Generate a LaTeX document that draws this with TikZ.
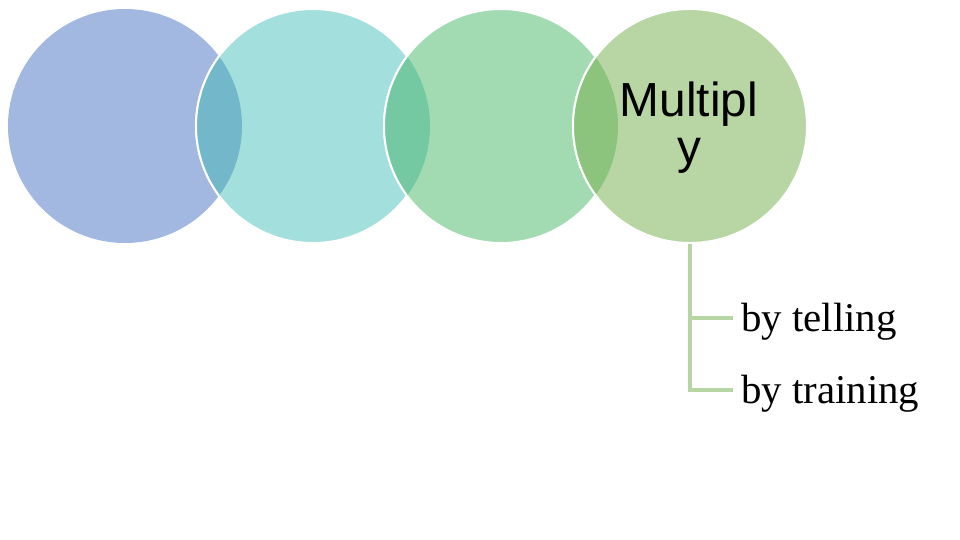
\documentclass[tikz,border=0pt]{standalone}
\usepackage{fontspec}
\setmainfont{Liberation Serif}
\newfontfamily\headfont{Liberation Sans}
\definecolor{cA}{HTML}{A2B8E0}
\definecolor{cB}{HTML}{A3DFDC}
\definecolor{cC}{HTML}{A2DBB2}
\definecolor{cD}{HTML}{B8D6A3}
\definecolor{lAB}{HTML}{72B8CA}
\definecolor{lBC}{HTML}{74C9A2}
\definecolor{lCD}{HTML}{8CC47E}
\tikzset{
  disc/.style={circle, minimum size=234bp, inner sep=0pt},
  branch/.style={draw=cD, line width=4bp},
  leaf/.style={anchor=base west, inner sep=0pt, font=\fontsize{41}{44}\selectfont},
  headtext/.style={anchor=base, inner sep=0pt, font=\headfont\fontsize{48}{50}\selectfont},
}
\begin{document}
\begin{tikzpicture}[x=1bp,y=-1bp]
\useasboundingbox (0,0) rectangle (960,540);
% circles
\node[disc, fill=cA] (c1) at (125,126) {};
\node[disc, fill=cB, draw=white, line width=2bp] (c2) at (313,126) {};
\node[disc, fill=cC, draw=white, line width=2bp] (c3) at (501,126) {};
\node[disc, fill=cD, draw=white, line width=2bp] (c4) at (690,126) {};
% lenses
\begin{scope}
  \clip (125,126) circle (117);
  \fill[lAB] (313,126) circle (117);
  \draw[white, line width=2bp] (313,126) circle (117);
\end{scope}
\begin{scope}
  \clip (313,126) circle (117);
  \fill[lBC] (501,126) circle (117);
  \draw[white, line width=2bp] (501,126) circle (117);
\end{scope}
\begin{scope}
  \clip (501,126) circle (117);
  \fill[lCD] (690,126) circle (117);
  \draw[white, line width=2bp] (690,126) circle (117);
\end{scope}
% title text
\node[headtext] (t1) at (689,117) {Multipl};
\node[headtext] (t2) at (689,164) {y};
% tree
\coordinate (j1) at (690,318);
\coordinate (j2) at (690,390);
\node[leaf] (l1) at (741,332) {by telling};
\node[leaf] (l2) at (741,403) {by training};
\coordinate (e1) at (733,318);
\coordinate (e2) at (733,390);
\draw[branch] (c4.south) -- (j2);
\draw[branch] (j1) -- (e1);
\draw[branch] ([xshift=-2bp]j2) -- (e2);
\end{tikzpicture}
\end{document}
